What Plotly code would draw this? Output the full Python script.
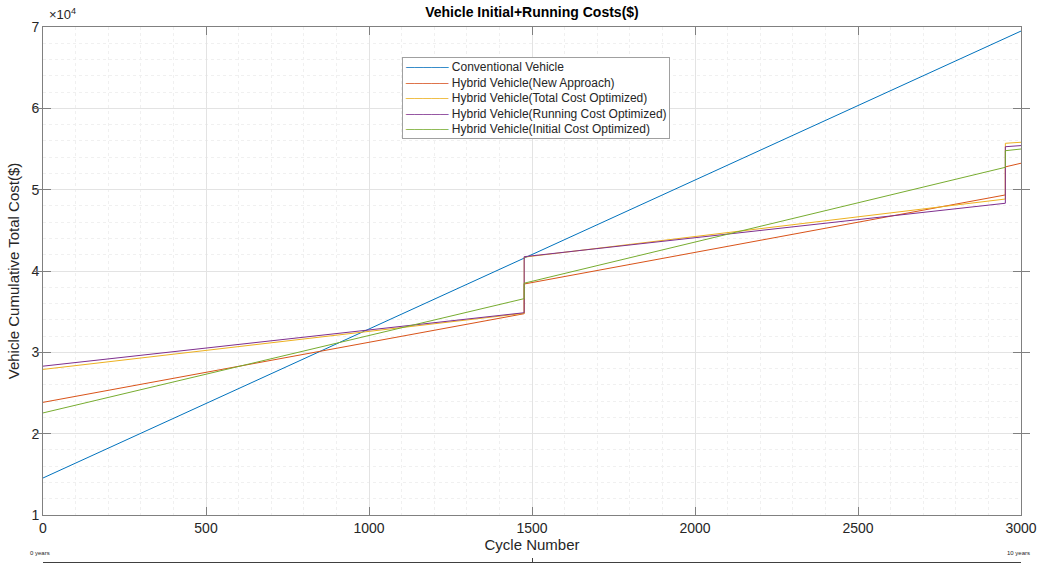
import plotly.graph_objects as go

# Cumulative cost (initial + running) per drive cycle
cycles_conv = [0, 3000]
cost_conventional = [14550, 69500]

# Hybrid series: battery replacement steps at ~5 and ~10 years
cycles_hybrid = [0, 1476, 1476, 2952, 2952, 3000]
cost_new_approach = [23850, 34750, 38400, 49350, 52800, 53250]
cost_total_opt = [27900, 34800, 41700, 48850, 55700, 55830]
cost_running_opt = [28300, 34870, 41760, 48330, 55280, 55420]
cost_initial_opt = [22550, 36600, 38500, 52750, 54790, 55000]

series_names = [
    "Conventional Vehicle",
    "Hybrid Vehicle(New Approach)",
    "Hybrid Vehicle(Total Cost Optimized)",
    "Hybrid Vehicle(Running Cost Optimized)",
    "Hybrid Vehicle(Initial Cost Optimized)",
]
colors = ["#0072BD", "#D95319", "#EDB120", "#7E2F8E", "#77AC30"]

x_ticks = [0, 500, 1000, 1500, 2000, 2500, 3000]
y_ticks = [10000, 20000, 30000, 40000, 50000, 60000, 70000]
y_tick_labels = ["1", "2", "3", "4", "5", "6", "7"]
year_ticks = [0, 1500, 3000]

FONT = "Liberation Sans, Arial, sans-serif"
AX = "#808080"
TXT = "#262626"

fig = go.Figure()
all_x = [cycles_conv] + [cycles_hybrid] * 4
all_y = [cost_conventional, cost_new_approach, cost_total_opt,
         cost_running_opt, cost_initial_opt]
for name, xs, ys, c in zip(series_names, all_x, all_y, colors):
    fig.add_trace(go.Scatter(x=xs, y=ys, mode="lines", name=name,
                             line=dict(color=c, width=1)))

# secondary "years" axis below the cycle axis
fig.add_trace(go.Scatter(x=[0, 3000], y=[None, None], xaxis="x2",
                         showlegend=False, hoverinfo="skip"))

fig.update_layout(
    width=1037, height=565,
    margin=dict(l=43, r=16, t=27, b=3, autoexpand=False),
    paper_bgcolor="white", plot_bgcolor="white",
    font=dict(family=FONT, color=TXT),
    title=dict(text="<b>Vehicle Initial+Running Costs($)</b>",
               x=(43 + 1021) / 2 / 1037, xanchor="center",
               y=1 - 12 / 565, yanchor="middle",
               font=dict(size=14, color="#000000")),
    showlegend=False,
    xaxis=dict(range=[0, 3000], tickvals=x_ticks,
               showline=True, linecolor=AX, linewidth=1, mirror="allticks",
               ticks="inside", ticklen=8, tickcolor=AX,
               tickfont=dict(size=14, color=TXT),
               showgrid=True, gridcolor="#e3e3e3", gridwidth=1,
               minor=dict(dtick=100, showgrid=True, gridcolor="#f0f0f0",
                          griddash="dot", ticks=""),
               zeroline=False,
               title=dict(text="Cycle Number", font=dict(size=15, color=TXT),
                          standoff=2),
               anchor="y", automargin=False),
    xaxis2=dict(range=[0, 3000], overlaying="x", anchor="free", position=0,
                side="bottom", tickvals=year_ticks, ticks="inside",
                ticklen=4, tickcolor="#404040", showticklabels=False,
                showline=True, linecolor="#404040", linewidth=1,
                showgrid=False, zeroline=False, automargin=False),
    yaxis=dict(range=[10000, 70000], tickvals=y_ticks, ticktext=y_tick_labels,
               domain=[(562 - 515) / 535, 1],
               showline=True, linecolor=AX, linewidth=1, mirror="allticks",
               ticks="inside", ticklen=8, tickcolor=AX,
               tickfont=dict(size=14, color=TXT),
               showgrid=True, gridcolor="#e3e3e3", gridwidth=1,
               minor=dict(dtick=2000, showgrid=True, gridcolor="#f0f0f0",
                          griddash="dot", ticks=""),
               zeroline=False, automargin=False,
               title=dict(text="Vehicle Cumulative Total Cost($)",
                          font=dict(size=15, color=TXT), standoff=8)),
)

# compact legend box: coloured line sample followed by the series name
legend_rows = [
    f'<span style="color:{c}">─────</span> {n}'
    for n, c in zip(series_names, colors)
]
fig.add_annotation(text="<br>".join(legend_rows), xref="paper", yref="paper",
                   x=(402 - 43) / 978, y=(562 - 57) / 535,
                   xanchor="left", yanchor="top", align="left",
                   showarrow=False, bgcolor="white",
                   bordercolor="#a0a0a0", borderwidth=1, borderpad=2,
                   font=dict(size=12, color=TXT))

fig.add_annotation(text="×10<sup>4</sup>", xref="paper", yref="paper",
                   x=(47 - 43) / 978, y=(562 - 14) / 535, xanchor="left",
                   yanchor="middle", showarrow=False,
                   font=dict(size=13, color=TXT))
fig.add_annotation(text="0 years", xref="paper", yref="paper",
                   x=(40 - 43) / 978, y=(562 - 553) / 535, xanchor="center",
                   yanchor="middle", showarrow=False,
                   font=dict(size=6, color=TXT))
fig.add_annotation(text="10 years", xref="paper", yref="paper",
                   x=(1018 - 43) / 978, y=(562 - 553) / 535, xanchor="center",
                   yanchor="middle", showarrow=False,
                   font=dict(size=6, color=TXT))

fig.write_html("out.html")
